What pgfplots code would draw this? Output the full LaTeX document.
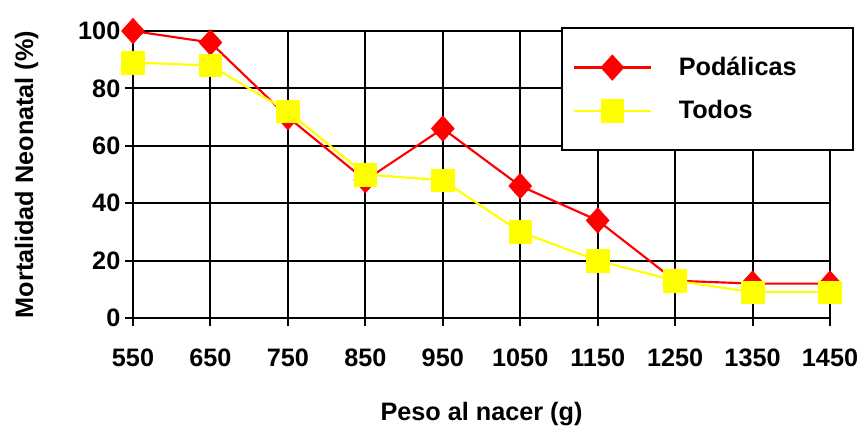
\documentclass[border=0pt]{standalone}
\usepackage{fontspec}
\setmainfont{Liberation Sans}
\usepackage{pgfplots}
\pgfplotsset{compat=1.18}

\definecolor{ptred}{RGB}{255,0,0}
\definecolor{ptyellow}{RGB}{255,255,0}

\begin{document}
\begin{tikzpicture}[x=1bp,y=1bp]
\useasboundingbox (-99.75,-84) rectangle (545.25,238.5);
\begin{axis}[
    at={(0,0)}, anchor=south west,
    scale only axis,
    width=522.75bp, height=215.25bp,
    xmin=550, xmax=1450, ymin=0, ymax=100,
    xtick={550,650,...,1450},
    ytick={0,20,...,100},
    grid=major,
    grid style={black, line width=1.5bp},
    axis line style={black, line width=1.5bp},
    axis x line*=bottom, axis y line*=left,
    tick style={black, line width=1.5bp},
    tick align=outside, major tick length=6bp,
    font=\fontsize{19}{22}\selectfont\bfseries,
    ticklabel style={font=\fontsize{19}{22}\selectfont\bfseries},
    /pgf/number format/assume math mode=true,
    /pgf/number format/set thousands separator={},
    xticklabel style={yshift=-13.5bp},
    xlabel={Peso al nacer (g)},
    ylabel={Mortalidad Neonatal (\%)},
    xlabel style={yshift=-20bp},
    ylabel style={yshift=23bp},
    clip=false,
    legend style={at={(0.614,1.014)}, anchor=north west,
        draw=black, line width=1.5bp, fill=white,
        font=\fontsize{19}{22}\selectfont\bfseries,
        row sep=13bp, inner xsep=8bp, inner ysep=20bp,
        minimum width=0pt},
    legend cell align=left,
    legend image code/.code={
        \draw[#1] (0bp,0bp) -- (58bp,0bp);
        \draw[#1,only marks] plot coordinates {(29bp,0bp)};
    },
]
\addplot[ptred, line width=1.6bp, mark=diamond*, mark size=9.5bp,
    mark options={xscale=1.2, solid, fill=ptred, draw=ptred, line width=0.5bp}]
  table {
x y
550 100
650 96
750 70
850 48
950 66
1050 46
1150 34
1250 13
1350 12
1450 12
};
\addlegendentry{\kern18bp Podálicas\rule{32bp}{0pt}}

\addplot[ptyellow, line width=1.6bp, mark=square*, mark size=8.5bp,
    mark options={solid, fill=ptyellow, draw=ptyellow, line width=0.5bp}]
  table {
x y
550 89
650 88
750 72
850 50
950 48
1050 30
1150 20
1250 13
1350 9
1450 9
};
\addlegendentry{\kern18bp Todos}
\end{axis}
\end{tikzpicture}
\end{document}
